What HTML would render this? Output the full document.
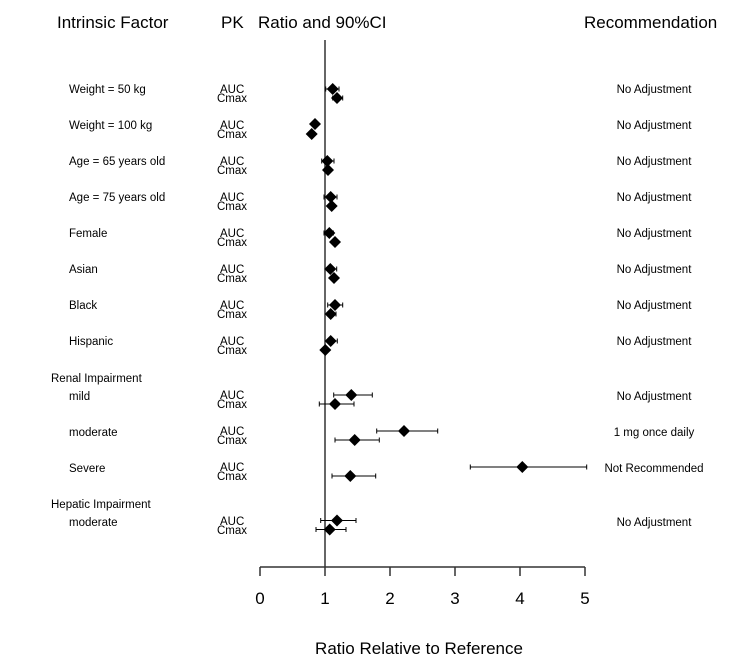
<!DOCTYPE html>
<html><head><meta charset="utf-8"><style>
body{margin:0;background:#fff}
svg{display:block;font-family:"Liberation Sans",Arial,sans-serif}
</style></head><body>
<svg width="750" height="664" viewBox="0 0 750 664">
<g font-size="17" fill="#000">
<text x="57" y="28">Intrinsic Factor</text>
<text x="221" y="28">PK</text>
<text x="258" y="28">Ratio and 90%CI</text>
<text x="584" y="28">Recommendation</text>
</g>
<g font-size="11.5" fill="#000">
<text x="69" y="93">Weight = 50 kg</text>
<text x="69" y="129">Weight = 100 kg</text>
<text x="69" y="165">Age = 65 years old</text>
<text x="69" y="201">Age = 75 years old</text>
<text x="69" y="237">Female</text>
<text x="69" y="273">Asian</text>
<text x="69" y="309">Black</text>
<text x="69" y="345">Hispanic</text>
<text x="51" y="382">Renal Impairment</text>
<text x="69" y="400">mild</text>
<text x="69" y="436">moderate</text>
<text x="69" y="472">Severe</text>
<text x="51" y="508">Hepatic Impairment</text>
<text x="69" y="526">moderate</text>
</g>
<g font-size="11.5" fill="#000" text-anchor="middle">
<text x="654" y="93">No Adjustment</text>
<text x="654" y="129">No Adjustment</text>
<text x="654" y="165">No Adjustment</text>
<text x="654" y="201">No Adjustment</text>
<text x="654" y="237">No Adjustment</text>
<text x="654" y="273">No Adjustment</text>
<text x="654" y="309">No Adjustment</text>
<text x="654" y="345">No Adjustment</text>
<text x="654" y="400">No Adjustment</text>
<text x="654" y="436">1 mg once daily</text>
<text x="654" y="472">Not Recommended</text>
<text x="654" y="526">No Adjustment</text>
</g>
<g font-size="11.5" fill="#000">
<text x="220" y="93">AUC</text><text x="217" y="102">Cmax</text>
<text x="220" y="129">AUC</text><text x="217" y="138">Cmax</text>
<text x="220" y="165">AUC</text><text x="217" y="174">Cmax</text>
<text x="220" y="201">AUC</text><text x="217" y="210">Cmax</text>
<text x="220" y="237">AUC</text><text x="217" y="246">Cmax</text>
<text x="220" y="273">AUC</text><text x="217" y="282">Cmax</text>
<text x="220" y="309">AUC</text><text x="217" y="318">Cmax</text>
<text x="220" y="345">AUC</text><text x="217" y="354">Cmax</text>
<text x="220" y="399">AUC</text><text x="217" y="408">Cmax</text>
<text x="220" y="435">AUC</text><text x="217" y="444">Cmax</text>
<text x="220" y="471">AUC</text><text x="217" y="480">Cmax</text>
<text x="220" y="525">AUC</text><text x="217" y="534">Cmax</text>
</g>
<line x1="325" y1="40" x2="325" y2="567" stroke="#333" stroke-width="1.5"/>
<g stroke="#333" stroke-width="1.5">
<line x1="260" y1="567" x2="585" y2="567"/>
<line x1="260" y1="567" x2="260" y2="576"/>
<line x1="325" y1="567" x2="325" y2="576"/>
<line x1="390" y1="567" x2="390" y2="576"/>
<line x1="455" y1="567" x2="455" y2="576"/>
<line x1="520" y1="567" x2="520" y2="576"/>
<line x1="585" y1="567" x2="585" y2="576"/>
</g>
<g font-size="17" fill="#000" text-anchor="middle">
<text x="260" y="604">0</text><text x="325" y="604">1</text><text x="390" y="604">2</text>
<text x="455" y="604">3</text><text x="520" y="604">4</text><text x="585" y="604">5</text>
<text x="419" y="654">Ratio Relative to Reference</text>
</g>
<g stroke="#000" stroke-width="1" fill="none" id="ci">
<path d="M325.7 89H339M325.7 86.5v5M339 86.5v5"/>
<path d="M332.7 98H342.7M332.7 95.5v5M342.7 95.5v5"/>
<path d="M321.7 161H334M321.7 158.5v5M334 158.5v5"/>
<path d="M324 197H337M324 194.5v5M337 194.5v5"/>
<path d="M324 233H333.3M324 230.5v5M333.3 230.5v5"/>
<path d="M326.7 269H336.7M336.7 266.5v5"/>
<path d="M327.7 305H342.7M327.7 302.5v5M342.7 302.5v5"/>
<path d="M326.7 314H336M336 311.5v5"/>
<path d="M326.7 341H337.3M337.3 338.5v5"/>
<path d="M333.7 395H372.3M333.7 392.5v5M372.3 392.5v5"/>
<path d="M319.3 404H354M319.3 401.5v5M354 401.5v5"/>
<path d="M376.7 431H437.7M376.7 428.5v5M437.7 428.5v5"/>
<path d="M335 440H379.3M335 437.5v5M379.3 437.5v5"/>
<path d="M470.3 467H586.7M470.3 464.5v5M586.7 464.5v5"/>
<path d="M332 476H375.7M332 473.5v5M375.7 473.5v5"/>
<path d="M320.7 520.5H356M320.7 518v5M356 518v5"/>
<path d="M316 529.5H346M316 527v5M346 527v5"/>
</g>
<g fill="#000">
<path d="M332.7 83l6 6-6 6-6-6z"/><path d="M337 92l6 6-6 6-6-6z"/>
<path d="M315 118l6 6-6 6-6-6z"/><path d="M311.7 128l6 6-6 6-6-6z"/>
<path d="M327.3 155l6 6-6 6-6-6z"/><path d="M328 164l6 6-6 6-6-6z"/>
<path d="M330.7 191l6 6-6 6-6-6z"/><path d="M331.7 200l6 6-6 6-6-6z"/>
<path d="M329.3 227l6 6-6 6-6-6z"/><path d="M335 236l6 6-6 6-6-6z"/>
<path d="M330.3 263l6 6-6 6-6-6z"/><path d="M334 272l6 6-6 6-6-6z"/>
<path d="M335 299l6 6-6 6-6-6z"/><path d="M330.7 308l6 6-6 6-6-6z"/>
<path d="M330.7 335l6 6-6 6-6-6z"/><path d="M325.3 344l6 6-6 6-6-6z"/>
<path d="M351.3 389l6 6-6 6-6-6z"/><path d="M335 398l6 6-6 6-6-6z"/>
<path d="M404 425l6 6-6 6-6-6z"/><path d="M354.7 434l6 6-6 6-6-6z"/>
<path d="M522.3 461l6 6-6 6-6-6z"/><path d="M350.3 470l6 6-6 6-6-6z"/>
<path d="M337 514.5l6 6-6 6-6-6z"/><path d="M329.7 523.5l6 6-6 6-6-6z"/>
</g>
</svg>
</body></html>
